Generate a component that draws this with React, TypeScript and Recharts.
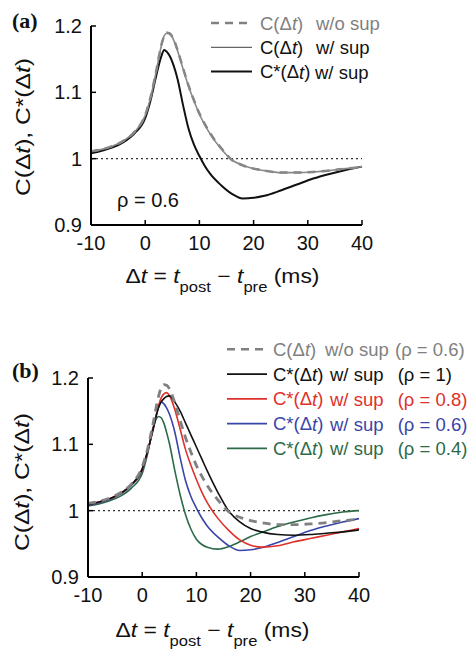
import React from 'react';
import { LineChart, Line, XAxis, YAxis, ReferenceLine, Legend } from 'recharts';

const deltaT = [-10, -8, -6, -4, -2, 0, 1, 2, 3, 3.5, 4, 4.5, 5, 6, 7, 8, 9, 10, 11, 12, 14, 16, 18, 20, 22, 25, 28, 31, 34, 37, 40];
const cNoSup = [1.011, 1.014, 1.019, 1.027, 1.040, 1.066, 1.093, 1.131, 1.172, 1.185, 1.190, 1.189, 1.184, 1.163, 1.136, 1.110, 1.088, 1.068, 1.052, 1.038, 1.016, 0.998, 0.990, 0.985, 0.982, 0.979, 0.979, 0.980, 0.982, 0.985, 0.987];
const cWithSup = [1.011, 1.014, 1.019, 1.027, 1.040, 1.065, 1.092, 1.130, 1.171, 1.185, 1.189, 1.188, 1.183, 1.162, 1.135, 1.109, 1.087, 1.067, 1.051, 1.037, 1.015, 0.998, 0.990, 0.985, 0.982, 0.979, 0.979, 0.980, 0.982, 0.985, 0.988];
const cStar06 = [1.008, 1.012, 1.017, 1.025, 1.038, 1.061, 1.088, 1.124, 1.155, 1.164, 1.161, 1.155, 1.146, 1.119, 1.080, 1.045, 1.021, 1.004, 0.989, 0.977, 0.960, 0.947, 0.940, 0.941, 0.944, 0.952, 0.961, 0.970, 0.977, 0.983, 0.988];
const cStar1 = [1.009, 1.013, 1.018, 1.026, 1.039, 1.063, 1.090, 1.122, 1.155, 1.164, 1.169, 1.172, 1.173, 1.164, 1.150, 1.132, 1.114, 1.096, 1.078, 1.060, 1.027, 0.999, 0.983, 0.973, 0.968, 0.964, 0.963, 0.964, 0.966, 0.968, 0.971];
const cStar08 = [1.009, 1.013, 1.018, 1.026, 1.039, 1.062, 1.090, 1.122, 1.158, 1.170, 1.176, 1.178, 1.174, 1.153, 1.123, 1.092, 1.068, 1.047, 1.028, 1.012, 0.988, 0.970, 0.956, 0.948, 0.945, 0.947, 0.953, 0.958, 0.963, 0.968, 0.973];
const cStar04 = [1.007, 1.010, 1.015, 1.022, 1.034, 1.056, 1.086, 1.125, 1.142, 1.140, 1.132, 1.118, 1.102, 1.061, 1.024, 0.994, 0.972, 0.957, 0.949, 0.945, 0.942, 0.946, 0.953, 0.961, 0.967, 0.976, 0.983, 0.989, 0.994, 0.998, 1.000];

const xTicks = [-10, 0, 10, 20, 30, 40];
const yTicks = [0.9, 1, 1.1, 1.2];

const dataA = deltaT.map((t, i) => ({ t, noSup: cNoSup[i], withSup: cWithSup[i], star06: cStar06[i] }));
const dataB = deltaT.map((t, i) => ({ t, noSup: cNoSup[i], star1: cStar1[i], star08: cStar08[i], star06: cStar06[i], star04: cStar04[i] }));

const FONT = '"Liberation Sans", Arial, Helvetica, sans-serif';
const GRAY = '#808080';
const RED = '#e0302a';
const BLUE = '#3a45a8';
const GREEN = '#2d6a48';

const It = ({ children }: any) => <tspan fontStyle="italic">{children}</tspan>;

const YTitle = (dx: number, dy: number) => (props: any) => {
  const vb = props.viewBox || {};
  const cx = vb.x + dx;
  const cy = vb.y + vb.height / 2 + dy;
  return (
    <text x={cx} y={cy} transform={`rotate(-90, ${cx}, ${cy})`} textAnchor="middle" dominantBaseline="central" fontSize={20} fontFamily={FONT} fill="#111" textLength={138} lengthAdjust="spacingAndGlyphs">
      C(Δ<It>t</It>), C*(Δ<It>t</It>)
    </text>
  );
};

const XTitle = (cxAbs: number, dy: number) => (props: any) => {
  const vb = props.viewBox || {};
  const y = vb.y + dy;
  return (
    <text x={cxAbs} y={y} textAnchor="middle" fontSize={20} fontFamily={FONT} fill="#111" textLength={194} lengthAdjust="spacingAndGlyphs">
      Δ<It>t</It> = <It>t</It>
      <tspan fontSize={14.5} dy={9}>post</tspan>
      <tspan dy={-9}> − </tspan>
      <It>t</It>
      <tspan fontSize={14.5} dy={9}>pre</tspan>
      <tspan dy={-9}> (ms)</tspan>
    </text>
  );
};

type Entry = { a: string; b: string; c?: string; color: string; stroke: string; width: number; dash?: string };

const legendA: Entry[] = [
  { a: 'C(Δt)', b: 'w/o sup', color: GRAY, stroke: GRAY, width: 2.5, dash: '8 6' },
  { a: 'C(Δt)', b: 'w/ sup', color: '#111', stroke: '#666', width: 1.2 },
  { a: 'C*(Δt)', b: 'w/ sup', color: '#111', stroke: '#111', width: 2 },
];
const legendB: Entry[] = [
  { a: 'C(Δt)', b: 'w/o sup', c: '(ρ = 0.6)', color: GRAY, stroke: GRAY, width: 2.5, dash: '8 6' },
  { a: 'C*(Δt)', b: 'w/ sup', c: '(ρ = 1)', color: '#111', stroke: '#111', width: 1.8 },
  { a: 'C*(Δt)', b: 'w/ sup', c: '(ρ = 0.8)', color: RED, stroke: RED, width: 1.8 },
  { a: 'C*(Δt)', b: 'w/ sup', c: '(ρ = 0.6)', color: BLUE, stroke: BLUE, width: 1.8 },
  { a: 'C*(Δt)', b: 'w/ sup', c: '(ρ = 0.4)', color: GREEN, stroke: GREEN, width: 1.8 },
];

const renderName = (s: string) => {
  const parts = s.split('t');
  return (
    <>
      {parts[0]}
      <It>t</It>
      {parts[1]}
    </>
  );
};

const makeLegend = (entries: Entry[], opts: { w: number; h: number; x1: number; x2: number; tx: number; bx: number[]; cx?: number[]; y0: number; dy: number }) => () => (
  <svg width={opts.w} height={opts.h} style={{ display: 'block', overflow: 'visible' }}>
    {entries.map((e, i) => {
      const y = opts.y0 + i * opts.dy;
      return (
        <g key={i}>
          <line x1={opts.x1} x2={opts.x2} y1={y} y2={y} stroke={e.stroke} strokeWidth={e.width} strokeDasharray={e.dash} />
          <text x={opts.tx} y={y} dominantBaseline="central" fontSize={18.5} fontFamily={FONT} fill={e.color}>
            {renderName(e.a)}
            <tspan x={opts.bx[i]}>{e.b}</tspan>
            {e.c && opts.cx ? <tspan x={opts.cx[i]}>{e.c}</tspan> : null}
          </text>
        </g>
      );
    })}
  </svg>
);

const axisCommon = {
  stroke: '#000',
  strokeWidth: 2,
};

const tickStyle = { fontSize: 20, fontFamily: FONT, fill: '#111' };

export default function App() {
  return (
    <div style={{ position: 'absolute', left: 0, top: 0, width: 468, height: 649, background: '#fff' }}>
      {/* Panel (a) */}
      <div style={{ position: 'absolute', left: 0, top: 0 }}>
        <LineChart width={468} height={300} data={dataA} margin={{ top: 26, right: 106, bottom: 0, left: 0 }}>
          <XAxis
            dataKey="t"
            type="number"
            domain={[-10, 40]}
            ticks={xTicks}
            height={75}
            tickSize={-5}
            tickMargin={16}
            tick={tickStyle}
            axisLine={axisCommon}
            tickLine={{ stroke: '#000', strokeWidth: 1.5 }}
            label={{ content: XTitle(222.5, 58) } as any}
          />
          <YAxis
            type="number"
            domain={[0.9, 1.2]}
            ticks={yTicks}
            width={91}
            tickSize={-5}
            tickMargin={14}
            tick={tickStyle}
            tickFormatter={(v: number) => String(v)}
            axisLine={axisCommon}
            tickLine={{ stroke: '#000', strokeWidth: 1.5 }}
            label={{ content: YTitle(23, 1.5) } as any}
          />
          <ReferenceLine y={1} stroke="#333" strokeWidth={1.3} strokeDasharray="2 3" />
          <Line dataKey="star06" type="monotone" stroke="#111" strokeWidth={2} dot={false} isAnimationActive={false} />
          <Line dataKey="noSup" type="monotone" stroke={GRAY} strokeWidth={2.5} strokeDasharray="8 6" dot={false} isAnimationActive={false} />
          <Line dataKey="withSup" type="monotone" stroke="#888" strokeWidth={1.6} dot={false} isAnimationActive={false} />
          <Legend
            layout="horizontal"
            verticalAlign="middle"
            align="center"
            wrapperStyle={{ left: 200, top: 0, width: 268, height: 85 }}
            content={makeLegend(legendA, { w: 268, h: 85, x1: 11, x2: 52, tx: 60, bx: [116, 116, 115], y0: 23, dy: 24.3 })}
          />
        </LineChart>
        <svg width={468} height={300} style={{ position: 'absolute', left: 0, top: 0, pointerEvents: 'none' }}>
          <text x={12} y={28} fontSize={22} fontWeight="bold" fontFamily='"Liberation Serif", "Times New Roman", serif' fill="#111">(a)</text>
          <text x={117} y={207} fontSize={20} fontFamily={FONT} fill="#111">ρ = 0.6</text>
        </svg>
      </div>

      {/* Panel (b) */}
      <div style={{ position: 'absolute', left: 0, top: 330 }}>
        <LineChart width={468} height={319} data={dataB} margin={{ top: 48, right: 109, bottom: 0, left: 0 }}>
          <XAxis
            dataKey="t"
            type="number"
            domain={[-10, 40]}
            ticks={xTicks}
            height={72}
            tickSize={-5}
            tickMargin={16}
            tick={tickStyle}
            axisLine={axisCommon}
            tickLine={{ stroke: '#000', strokeWidth: 1.5 }}
            label={{ content: XTitle(212.5, 59.7) } as any}
          />
          <YAxis
            type="number"
            domain={[0.9, 1.2]}
            ticks={yTicks}
            width={88}
            tickSize={-5}
            tickMargin={14}
            tick={tickStyle}
            tickFormatter={(v: number) => String(v)}
            axisLine={axisCommon}
            tickLine={{ stroke: '#000', strokeWidth: 1.5 }}
            label={{ content: YTitle(21.7, 4.5) } as any}
          />
          <ReferenceLine y={1} stroke="#333" strokeWidth={1.3} strokeDasharray="2 3" />
          <Line dataKey="star04" type="monotone" stroke={GREEN} strokeWidth={1.6} dot={false} isAnimationActive={false} />
          <Line dataKey="star06" type="monotone" stroke={BLUE} strokeWidth={1.6} dot={false} isAnimationActive={false} />
          <Line dataKey="star08" type="monotone" stroke={RED} strokeWidth={1.6} dot={false} isAnimationActive={false} />
          <Line dataKey="star1" type="monotone" stroke="#111" strokeWidth={1.6} dot={false} isAnimationActive={false} />
          <Line dataKey="noSup" type="monotone" stroke={GRAY} strokeWidth={2.8} strokeDasharray="8 6" dot={false} isAnimationActive={false} />
          <Legend
            layout="horizontal"
            verticalAlign="middle"
            align="center"
            wrapperStyle={{ left: 220, top: 0, width: 248, height: 135 }}
            content={makeLegend(legendB, { w: 248, h: 135, x1: 7, x2: 47, tx: 53, bx: [105, 110, 110, 110, 110], cx: [175, 177.7, 177.7, 177.7, 177.7], y0: 19.3, dy: 24.75 })}
          />
        </LineChart>
        <svg width={468} height={319} style={{ position: 'absolute', left: 0, top: 0, pointerEvents: 'none' }}>
          <text x={12} y={48} fontSize={22} fontWeight="bold" fontFamily='"Liberation Serif", "Times New Roman", serif' fill="#111">(b)</text>
        </svg>
      </div>
    </div>
  );
}
